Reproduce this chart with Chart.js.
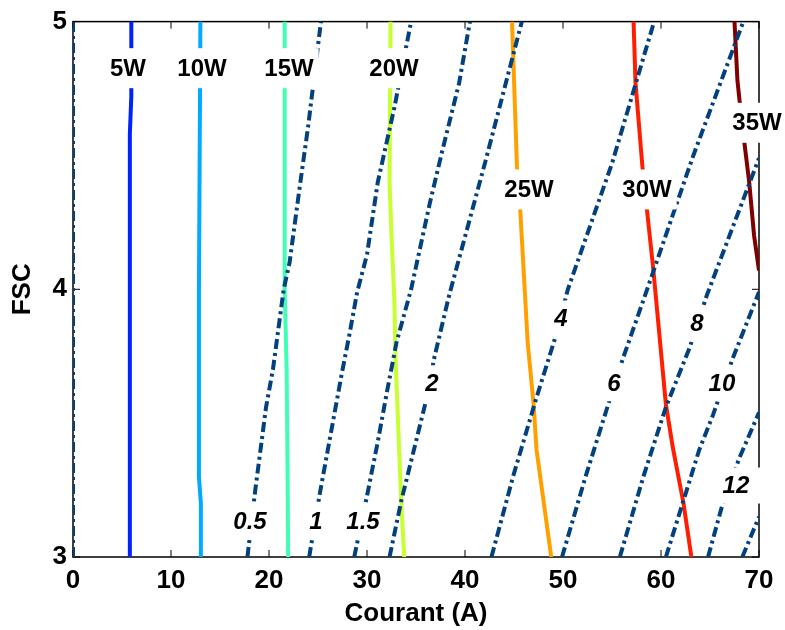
<!DOCTYPE html>
<html>
<head>
<meta charset="utf-8">
<title>FSC / Courant</title>
<script src="https://cdn.jsdelivr.net/npm/chart.js@4/dist/chart.umd.min.js"></script>
<style>
    html, body { margin: 0; padding: 0; background: #ffffff; }
    #wrap { width: 785px; height: 630px; }
</style>
</head>
<body>
<div id="wrap"><canvas id="chart" width="785" height="630"></canvas></div>
<script>
// ==================== DONNEES ====================

// Graduations des axes
const courantTicks = [0, 10, 20, 30, 40, 50, 60, 70];
const fscTicks = [3, 4, 5];

// Courbes iso-puissance : points [courant (A), FSC]
const iso5W  = [[5.8, 3], [5.8, 4.58], [5.95, 4.72], [5.95, 5]];
const iso10W = [[13.05, 3], [13.05, 3.2], [12.85, 3.3], [12.85, 4.0], [13.0, 5]];
const iso15W = [[21.95, 3], [21.9, 3.3], [21.8, 3.7], [21.6, 4.0], [21.6, 5]];
const iso20W = [[33.8, 3], [33.5, 3.2], [32.9, 3.75], [32.8, 3.95], [32.5, 4.2], [32.3, 4.4], [32.4, 5]];
const iso25W = [[48.8, 3], [47.3, 3.4], [47.0, 3.57], [46.4, 3.8], [45.6, 4.32], [45.3, 4.46], [44.8, 5]];
const iso30W = [[63.1, 3], [62.3, 3.2], [61.2, 3.41], [60.5, 3.57], [59.2, 4.08], [58.5, 4.32], [58.1, 4.46], [57.4, 4.77], [57.2, 5]];
const iso35W = [[67.5, 5], [67.8, 4.78], [68.0, 4.71], [68.5, 4.55], [69.0, 4.4], [69.5, 4.2], [70, 4.07]];

const powerCurves = [iso5W, iso10W, iso15W, iso20W, iso25W, iso30W, iso35W];
const powerNames = ['5W', '10W', '15W', '20W', '25W', '30W', '35W'];
const powerColors = ['#0022ff', '#00aaff', '#40ffb4', '#c8ff30', '#ffa000', '#ff1e00', '#800000'];

// Courbes d'iso-valeur (pointill칠s)
const iso0   = [[0, 3], [0, 5]];
const iso0_5 = [[17.8, 3], [18.6, 3.25], [19.7, 3.56], [20.4, 3.7], [21.5, 4.0], [22.1, 4.1], [23.2, 4.4], [24.0, 4.61], [24.5, 4.76], [25.3, 5]];
const iso1   = [[24.1, 3], [25.2, 3.24], [26.2, 3.44], [27.4, 3.68], [28.2, 3.83], [29.0, 3.99], [30.0, 4.13], [31.1, 4.4], [32.8, 4.68], [34.5, 5]];
const iso1_5 = [[28.7, 3], [29.9, 3.21], [31.1, 3.43], [32.0, 3.61], [33.0, 3.8], [34.5, 4.0], [36.4, 4.32], [37.7, 4.52], [39.4, 4.77], [40.5, 5]];
const iso2   = [[32.3, 3], [33.5, 3.21], [36.0, 3.58], [36.9, 3.75], [38.4, 3.98], [42.1, 4.48], [45.8, 5]];
const iso4   = [[42.7, 3], [44.9, 3.3], [47.25, 3.59], [49.3, 3.83], [50.5, 4.0], [55.0, 4.47], [59.3, 5]];
const iso6   = [[49.9, 3], [52.3, 3.3], [54.7, 3.58], [56.1, 3.74], [58.4, 3.98], [63.3, 4.5], [68.4, 5]];
const iso8   = [[55.8, 3], [58.2, 3.3], [60.5, 3.56], [62.9, 3.78], [64.7, 3.98], [67.4, 4.24], [70, 4.49]];
const iso10  = [[60.5, 3], [62.2, 3.2], [63.9, 3.4], [65.3, 3.53], [67.3, 3.74], [70, 3.99]];
const iso12  = [[64.8, 3], [66.3, 3.2], [68.0, 3.37], [70, 3.54]];
const iso14  = [[68.3, 3], [70, 3.15]];

const levelCurves = [iso0, iso0_5, iso1, iso1_5, iso2, iso4, iso6, iso8, iso10, iso12, iso14];

// 칄tiquettes des courbes : texte et position [courant, FSC]
const powerLabelText = ['5W', '10W', '15W', '20W', '25W', '30W', '35W'];
const powerLabelAt = [[5.6, 4.826], [13.16, 4.826], [22.04, 4.826], [32.76, 4.826], [46.53, 4.373], [58.57, 4.373], [69.8, 4.622]];
const levelLabelText = ['0.5', '1', '1.5', '2', '4', '6', '8', '10', '12'];
const levelLabelAt = [[18.06, 3.134], [24.8, 3.134], [29.59, 3.134], [36.63, 3.649], [49.8, 3.891], [55.2, 3.649], [63.67, 3.872], [66.22, 3.649], [67.65, 3.267]];

// ==================== CONFIGURATION ====================

const FONT = "'Liberation Sans', Arial, Helvetica, sans-serif";
const NAVY = '#02407e';

const toPoints = pts => pts.map(p => ({ x: p[0], y: p[1] }));

const datasets = [];

levelCurves.forEach(c => {
    datasets.push({
        data: toPoints(c),
        showLine: true,
        borderColor: NAVY,
        borderWidth: 4,
        borderDash: [10, 4, 3, 4],
        borderCapStyle: 'butt',
        pointRadius: 0,
        tension: 0,
        fill: false
    });
});

powerCurves.forEach((c, i) => {
    datasets.push({
        label: powerNames[i],
        data: toPoints(c),
        showLine: true,
        borderColor: powerColors[i],
        borderWidth: 4,
        pointRadius: 0,
        tension: 0,
        fill: false
    });
});

/**
 * Cadre, graduations int칠rieures et 칠tiquettes des courbes
 */
const frameAndLabels = {
    id: 'frameAndLabels',
    beforeDatasetsDraw(chart) {
        const { ctx, chartArea: a, scales: { x, y } } = chart;
        ctx.save();
        ctx.strokeStyle = '#000';
        ctx.lineWidth = 1.5;
        ctx.strokeRect(a.left, a.top, a.right - a.left, a.bottom - a.top);
        ctx.lineWidth = 1;
        ctx.beginPath();
        courantTicks.forEach(v => {
            const px = x.getPixelForValue(v);
            ctx.moveTo(px, a.bottom); ctx.lineTo(px, a.bottom - 7);
            ctx.moveTo(px, a.top); ctx.lineTo(px, a.top + 7);
        });
        fscTicks.forEach(v => {
            const py = y.getPixelForValue(v);
            ctx.moveTo(a.left, py); ctx.lineTo(a.left + 7, py);
            ctx.moveTo(a.right, py); ctx.lineTo(a.right - 7, py);
        });
        ctx.stroke();
        ctx.restore();
    },
    afterDatasetsDraw(chart) {
        const { ctx, scales: { x, y } } = chart;
        const drawLabel = (text, at, font, padW, boxH) => {
            const px = x.getPixelForValue(at[0]);
            const py = y.getPixelForValue(at[1]);
            ctx.font = font;
            const w = ctx.measureText(text).width + padW;
            ctx.fillStyle = '#ffffff';
            ctx.fillRect(px - w / 2, py - boxH / 2, w, boxH);
            ctx.fillStyle = '#000000';
            ctx.textAlign = 'center';
            ctx.textBaseline = 'middle';
            ctx.fillText(text, px, py + 1);
        };
        ctx.save();
        powerLabelText.forEach((t, i) => drawLabel(t, powerLabelAt[i], 'bold 24px ' + FONT, 10, 40));
        levelLabelText.forEach((t, i) => drawLabel(t, levelLabelAt[i], 'italic bold 24px ' + FONT, 22, 36));
        ctx.restore();
    }
};

const axisFont = { family: FONT, size: 26, weight: 'bold' };

new Chart(document.getElementById('chart'), {
    type: 'scatter',
    data: { datasets: datasets },
    options: {
        responsive: false,
        animation: false,
        layout: { padding: { top: 18, right: 26, left: 0, bottom: 0 } },
        plugins: {
            legend: { display: false },
            tooltip: { enabled: false }
        },
        scales: {
            x: {
                type: 'linear',
                min: 0,
                max: 70,
                afterBuildTicks: s => { s.ticks = courantTicks.map(v => ({ value: v })); },
                afterFit: s => { s.height = 73; },
                grid: { display: false, drawTicks: false },
                border: { display: false },
                ticks: { color: '#000', font: axisFont, padding: 8, autoSkip: false, maxRotation: 0 },
                title: { display: true, text: 'Courant (A)', color: '#000', font: axisFont, padding: { top: 0, bottom: 1 } }
            },
            y: {
                type: 'linear',
                min: 3,
                max: 5,
                afterBuildTicks: s => { s.ticks = fscTicks.map(v => ({ value: v })); },
                afterFit: s => { s.width = 73; },
                grid: { display: false, drawTicks: false },
                border: { display: false },
                ticks: { color: '#000', font: axisFont, padding: 6 },
                title: { display: true, text: 'FSC', color: '#000', font: axisFont, padding: { top: 7, bottom: 0 } }
            }
        }
    },
    plugins: [frameAndLabels]
});
</script>
</body>
</html>
